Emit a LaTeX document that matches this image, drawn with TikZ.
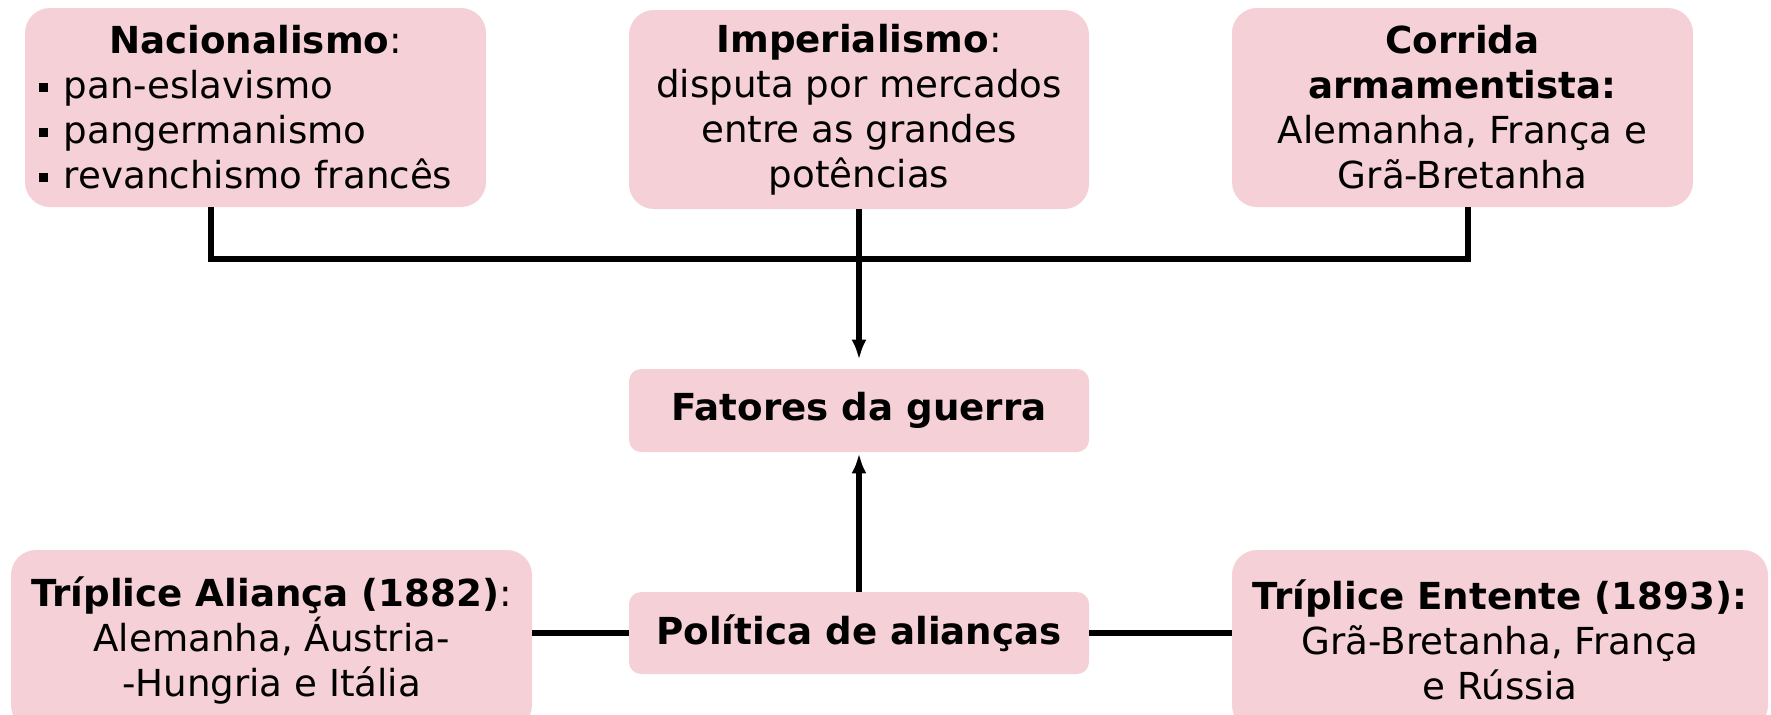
\documentclass[tikz,border=0pt]{standalone}
\usepackage{fontspec}
\setmainfont{DejaVu Sans}
\usetikzlibrary{arrows.meta}
\definecolor{rosa}{RGB}{245,208,214}
\newcommand{\sqbul}{\rule[3.6pt]{4.2pt}{4.2pt}\hspace{8pt}}
\begin{document}
\begin{tikzpicture}[x=0.5pt,y=-0.5pt,
		caixa/.style={fill=rosa, rounded corners=12.5pt, inner sep=0pt, align=center,
			font=\fontsize{18.6}{22.5}\selectfont},
		caixap/.style={caixa, rounded corners=6pt},
		liga/.style={line width=2.8pt},
		seta/.style={liga, -{Latex[length=10pt,width=7.5pt]}}]
			\useasboundingbox (0,0) rectangle (1771,714);
			% linha de cima
			\node [caixa, minimum width=230.5pt, minimum height=99.5pt, text width=216pt, align=left] (nac) at (255.5,107.5)
				{\makebox[\linewidth][c]{\textbf{Nacionalismo}:}\\ \sqbul pan-eslavismo\\ \sqbul pangermanismo\\ \sqbul revanchismo francês};
			\node [caixa, minimum width=230pt, minimum height=99.5pt] (imp) at (859,109.5)
				{\textbf{Imperialismo}:\\ disputa por mercados\\ entre as grandes\\ potências};
			\node [caixa, minimum width=230.5pt, minimum height=99.5pt] (cor) at (1462.5,107.5)
				{\textbf{Corrida}\\ \textbf{armamentista:}\\ Alemanha, França e\\ Grã-Bretanha};
			% centro
			\node [caixap, minimum width=230pt, minimum height=41.5pt] (fat) at (859,410.5) {\textbf{Fatores da guerra}};
			\node [caixap, minimum width=230pt, minimum height=41pt] (pol) at (859,633) {\textbf{Política de alianças}};
			% linha de baixo
			\node [caixa, minimum width=260.5pt, minimum height=90pt] (ali) at (271.5,640)
				{\textbf{Tríplice Aliança (1882)}:\\ Alemanha, Áustria-\\ -Hungria e Itália};
			\node [caixa, minimum width=268pt, minimum height=90pt] (ent) at (1500,640)
				{\textbf{Tríplice Entente (1893):}\\ Grã-Bretanha, França\\ e Rússia};
			% ligacoes
			\coordinate (jl) at (211,259);
			\coordinate (jr) at (1468,259);
			\draw [liga] (jl |- nac.south) -- (jl) -- (jr) -- (jr |- cor.south);
			\draw [seta, shorten >=4.5pt] (imp.south) -- (fat.north);
			\draw [seta, shorten >=0.5pt] (pol.north) -- (fat.south);
			\draw [liga] (pol.west) -- (pol.west -| ali.east);
			\draw [liga] (pol.east) -- (pol.east -| ent.west);
		\end{tikzpicture}
\end{document}
